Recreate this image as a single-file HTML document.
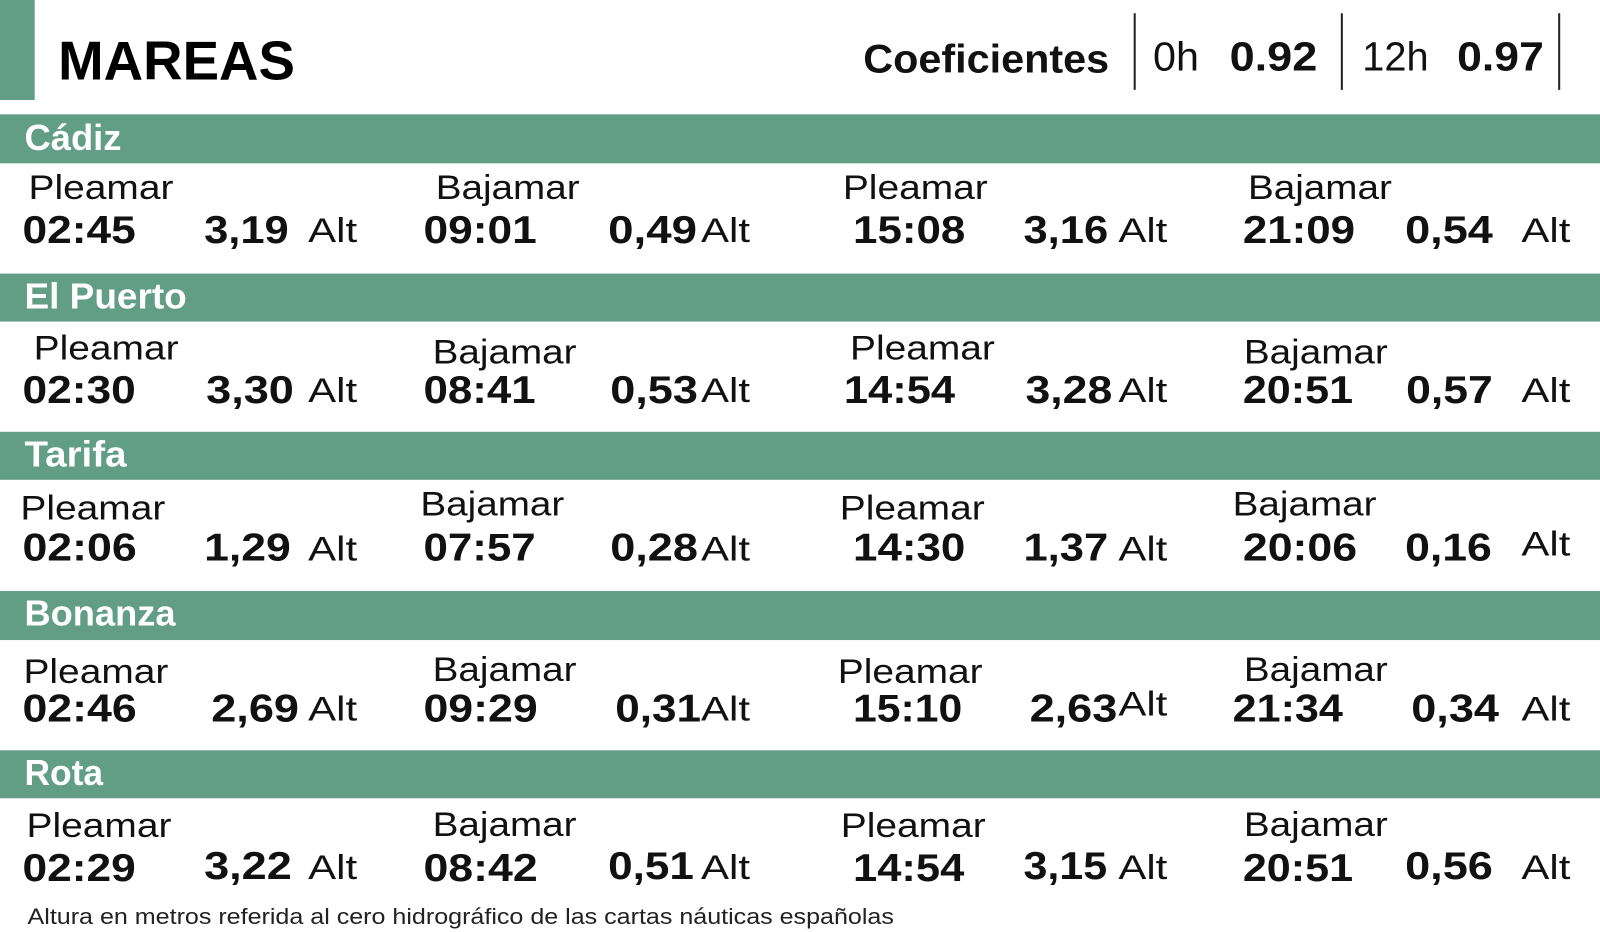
<!DOCTYPE html>
<html><head><meta charset="utf-8"><style>
html,body{margin:0;padding:0;background:#fff;width:1600px;height:932px;overflow:hidden}
svg{display:block}
text{font-family:"Liberation Sans",sans-serif}
.b{font-weight:bold}
.t{font-size:38px;font-weight:bold;fill:#111}
.l{font-size:34px;fill:#111}
.a{font-size:34px;fill:#111}
.h{font-size:35px;font-weight:bold;fill:#fff}
</style></head><body>
<svg width="1600" height="932" viewBox="0 0 1568 913" preserveAspectRatio="none">
<rect x="0" y="0" width="34" height="98" fill="#629e85"/>
<text x="57" y="78" font-size="54" class="b" fill="#000" textLength="232" lengthAdjust="spacingAndGlyphs">MAREAS</text>
<text x="846" y="71" font-size="39" class="b" fill="#111" textLength="241" lengthAdjust="spacingAndGlyphs">Coeficientes</text>
<line x1="1112" y1="13" x2="1112" y2="88" stroke="#222" stroke-width="2"/>
<line x1="1315" y1="13" x2="1315" y2="88" stroke="#222" stroke-width="2"/>
<line x1="1528" y1="13" x2="1528" y2="88" stroke="#222" stroke-width="2"/>
<text x="1130" y="69" font-size="40" fill="#111" textLength="45" lengthAdjust="spacingAndGlyphs">0h</text>
<text x="1205" y="69" font-size="40" class="b" fill="#111" textLength="86" lengthAdjust="spacingAndGlyphs">0.92</text>
<text x="1335" y="69" font-size="40" fill="#111" textLength="65" lengthAdjust="spacingAndGlyphs">12h</text>
<text x="1428" y="69" font-size="40" class="b" fill="#111" textLength="85" lengthAdjust="spacingAndGlyphs">0.97</text>

<rect x="0" y="112" width="1568" height="48" fill="#629e85"/>
<rect x="0" y="268" width="1568" height="47" fill="#629e85"/>
<rect x="0" y="423" width="1568" height="47" fill="#629e85"/>
<rect x="0" y="579" width="1568" height="48" fill="#629e85"/>
<rect x="0" y="735" width="1568" height="47" fill="#629e85"/>
<text x="24" y="147" class="h" textLength="95" lengthAdjust="spacingAndGlyphs">Cádiz</text>
<text x="24" y="302" class="h" textLength="159" lengthAdjust="spacingAndGlyphs">El Puerto</text>
<text x="24" y="457" class="h" textLength="100" lengthAdjust="spacingAndGlyphs">Tarifa</text>
<text x="24" y="613" class="h" textLength="148" lengthAdjust="spacingAndGlyphs">Bonanza</text>
<text x="24" y="769" class="h" textLength="77" lengthAdjust="spacingAndGlyphs">Rota</text>

<g lengthAdjust="spacingAndGlyphs">
<!-- Cadiz -->
<text x="28" y="195" class="l" textLength="142" lengthAdjust="spacingAndGlyphs">Pleamar</text><text x="427" y="195" class="l" textLength="141" lengthAdjust="spacingAndGlyphs">Bajamar</text><text x="826" y="195" class="l" textLength="142" lengthAdjust="spacingAndGlyphs">Pleamar</text><text x="1223" y="195" class="l" textLength="141" lengthAdjust="spacingAndGlyphs">Bajamar</text>
<text x="22" y="238" class="t" textLength="111" lengthAdjust="spacingAndGlyphs">02:45</text><text x="200" y="238" class="t" textLength="83" lengthAdjust="spacingAndGlyphs">3,19</text><text x="302" y="237" class="a" textLength="48" lengthAdjust="spacingAndGlyphs">Alt</text>
<text x="415" y="238" class="t" textLength="111" lengthAdjust="spacingAndGlyphs">09:01</text><text x="596" y="238" class="t" textLength="87" lengthAdjust="spacingAndGlyphs">0,49</text><text x="687" y="237" class="a" textLength="48" lengthAdjust="spacingAndGlyphs">Alt</text>
<text x="836" y="238" class="t" textLength="110" lengthAdjust="spacingAndGlyphs">15:08</text><text x="1003" y="238" class="t" textLength="83" lengthAdjust="spacingAndGlyphs">3,16</text><text x="1096" y="237" class="a" textLength="48" lengthAdjust="spacingAndGlyphs">Alt</text>
<text x="1218" y="238" class="t" textLength="110" lengthAdjust="spacingAndGlyphs">21:09</text><text x="1377" y="238" class="t" textLength="86" lengthAdjust="spacingAndGlyphs">0,54</text><text x="1491" y="237" class="a" textLength="48" lengthAdjust="spacingAndGlyphs">Alt</text>
<!-- El Puerto -->
<text x="33" y="352" class="l" textLength="142" lengthAdjust="spacingAndGlyphs">Pleamar</text><text x="424" y="356" class="l" textLength="141" lengthAdjust="spacingAndGlyphs">Bajamar</text><text x="833" y="352" class="l" textLength="142" lengthAdjust="spacingAndGlyphs">Pleamar</text><text x="1219" y="356" class="l" textLength="141" lengthAdjust="spacingAndGlyphs">Bajamar</text>
<text x="22" y="395" class="t" textLength="111" lengthAdjust="spacingAndGlyphs">02:30</text><text x="202" y="395" class="t" textLength="86" lengthAdjust="spacingAndGlyphs">3,30</text><text x="302" y="394" class="a" textLength="48" lengthAdjust="spacingAndGlyphs">Alt</text>
<text x="415" y="395" class="t" textLength="110" lengthAdjust="spacingAndGlyphs">08:41</text><text x="598" y="395" class="t" textLength="86" lengthAdjust="spacingAndGlyphs">0,53</text><text x="687" y="394" class="a" textLength="48" lengthAdjust="spacingAndGlyphs">Alt</text>
<text x="827" y="395" class="t" textLength="109" lengthAdjust="spacingAndGlyphs">14:54</text><text x="1005" y="395" class="t" textLength="85" lengthAdjust="spacingAndGlyphs">3,28</text><text x="1096" y="394" class="a" textLength="48" lengthAdjust="spacingAndGlyphs">Alt</text>
<text x="1218" y="395" class="t" textLength="108" lengthAdjust="spacingAndGlyphs">20:51</text><text x="1378" y="395" class="t" textLength="85" lengthAdjust="spacingAndGlyphs">0,57</text><text x="1491" y="394" class="a" textLength="48" lengthAdjust="spacingAndGlyphs">Alt</text>
<!-- Tarifa -->
<text x="20" y="509" class="l" textLength="142" lengthAdjust="spacingAndGlyphs">Pleamar</text><text x="412" y="505" class="l" textLength="141" lengthAdjust="spacingAndGlyphs">Bajamar</text><text x="823" y="509" class="l" textLength="142" lengthAdjust="spacingAndGlyphs">Pleamar</text><text x="1208" y="505" class="l" textLength="141" lengthAdjust="spacingAndGlyphs">Bajamar</text>
<text x="22" y="549" class="t" textLength="112" lengthAdjust="spacingAndGlyphs">02:06</text><text x="200" y="549" class="t" textLength="85" lengthAdjust="spacingAndGlyphs">1,29</text><text x="302" y="549" class="a" textLength="48" lengthAdjust="spacingAndGlyphs">Alt</text>
<text x="415" y="549" class="t" textLength="110" lengthAdjust="spacingAndGlyphs">07:57</text><text x="598" y="549" class="t" textLength="86" lengthAdjust="spacingAndGlyphs">0,28</text><text x="687" y="549" class="a" textLength="48" lengthAdjust="spacingAndGlyphs">Alt</text>
<text x="836" y="549" class="t" textLength="110" lengthAdjust="spacingAndGlyphs">14:30</text><text x="1003" y="549" class="t" textLength="83" lengthAdjust="spacingAndGlyphs">1,37</text><text x="1096" y="549" class="a" textLength="48" lengthAdjust="spacingAndGlyphs">Alt</text>
<text x="1218" y="549" class="t" textLength="112" lengthAdjust="spacingAndGlyphs">20:06</text><text x="1377" y="549" class="t" textLength="85" lengthAdjust="spacingAndGlyphs">0,16</text><text x="1491" y="544" class="a" textLength="48" lengthAdjust="spacingAndGlyphs">Alt</text>
<!-- Bonanza -->
<text x="23" y="669" class="l" textLength="142" lengthAdjust="spacingAndGlyphs">Pleamar</text><text x="424" y="667" class="l" textLength="141" lengthAdjust="spacingAndGlyphs">Bajamar</text><text x="821" y="669" class="l" textLength="142" lengthAdjust="spacingAndGlyphs">Pleamar</text><text x="1219" y="667" class="l" textLength="141" lengthAdjust="spacingAndGlyphs">Bajamar</text>
<text x="22" y="707" class="t" textLength="112" lengthAdjust="spacingAndGlyphs">02:46</text><text x="207" y="707" class="t" textLength="86" lengthAdjust="spacingAndGlyphs">2,69</text><text x="302" y="706" class="a" textLength="48" lengthAdjust="spacingAndGlyphs">Alt</text>
<text x="415" y="707" class="t" textLength="112" lengthAdjust="spacingAndGlyphs">09:29</text><text x="603" y="707" class="t" textLength="84" lengthAdjust="spacingAndGlyphs">0,31</text><text x="687" y="706" class="a" textLength="48" lengthAdjust="spacingAndGlyphs">Alt</text>
<text x="836" y="707" class="t" textLength="107" lengthAdjust="spacingAndGlyphs">15:10</text><text x="1009" y="707" class="t" textLength="86" lengthAdjust="spacingAndGlyphs">2,63</text><text x="1096" y="701" class="a" textLength="48" lengthAdjust="spacingAndGlyphs">Alt</text>
<text x="1208" y="707" class="t" textLength="108" lengthAdjust="spacingAndGlyphs">21:34</text><text x="1383" y="707" class="t" textLength="86" lengthAdjust="spacingAndGlyphs">0,34</text><text x="1491" y="706" class="a" textLength="48" lengthAdjust="spacingAndGlyphs">Alt</text>
<!-- Rota -->
<text x="26" y="820" class="l" textLength="142" lengthAdjust="spacingAndGlyphs">Pleamar</text><text x="424" y="819" class="l" textLength="141" lengthAdjust="spacingAndGlyphs">Bajamar</text><text x="824" y="820" class="l" textLength="142" lengthAdjust="spacingAndGlyphs">Pleamar</text><text x="1219" y="819" class="l" textLength="141" lengthAdjust="spacingAndGlyphs">Bajamar</text>
<text x="22" y="863" class="t" textLength="111" lengthAdjust="spacingAndGlyphs">02:29</text><text x="200" y="861" class="t" textLength="86" lengthAdjust="spacingAndGlyphs">3,22</text><text x="302" y="861" class="a" textLength="48" lengthAdjust="spacingAndGlyphs">Alt</text>
<text x="415" y="863" class="t" textLength="112" lengthAdjust="spacingAndGlyphs">08:42</text><text x="596" y="861" class="t" textLength="84" lengthAdjust="spacingAndGlyphs">0,51</text><text x="687" y="861" class="a" textLength="48" lengthAdjust="spacingAndGlyphs">Alt</text>
<text x="836" y="863" class="t" textLength="109" lengthAdjust="spacingAndGlyphs">14:54</text><text x="1003" y="861" class="t" textLength="82" lengthAdjust="spacingAndGlyphs">3,15</text><text x="1096" y="861" class="a" textLength="48" lengthAdjust="spacingAndGlyphs">Alt</text>
<text x="1218" y="863" class="t" textLength="108" lengthAdjust="spacingAndGlyphs">20:51</text><text x="1377" y="861" class="t" textLength="86" lengthAdjust="spacingAndGlyphs">0,56</text><text x="1491" y="861" class="a" textLength="48" lengthAdjust="spacingAndGlyphs">Alt</text>
</g>

<text x="27" y="905" font-size="22" fill="#222" textLength="849" lengthAdjust="spacingAndGlyphs">Altura en metros referida al cero hidrográfico de las cartas náuticas españolas</text>
</svg>
</body></html>
